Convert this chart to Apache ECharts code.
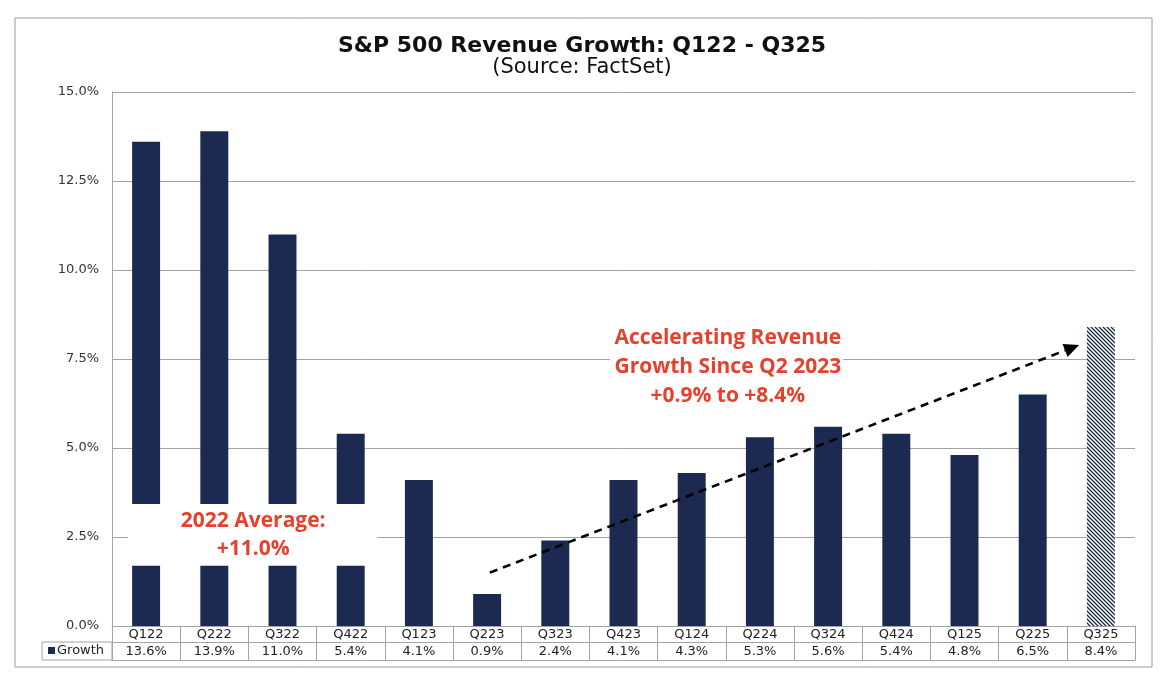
<!DOCTYPE html>
<html><head><meta charset="utf-8">
<script src="https://cdn.jsdelivr.net/npm/echarts@6/dist/echarts.min.js"></script>
<style>html,body{margin:0;padding:0;background:#fff}#c{width:1164px;height:690px}</style>
</head><body><div id="c"></div>
<script>
// ---- data ----
const categories = ['Q122','Q222','Q322','Q422','Q123','Q223','Q323','Q423','Q124','Q224','Q324','Q424','Q125','Q225','Q325'];
const growth = [13.6,13.9,11.0,5.4,4.1,0.9,2.4,4.1,4.3,5.3,5.6,5.4,4.8,6.5,8.4];
const seriesName = 'Growth';
const titleText = 'S&P 500 Revenue Growth: Q122 - Q325';
const subtitleText = '(Source: FactSet)';
const noteLeft = ['2022 Average:', '+11.0%'];
const noteRight = ['Accelerating Revenue', 'Growth Since Q2 2023', '+0.9% to +8.4%'];
const estimatedIndex = 14; // hatched bar

// ---- style ----
const NAVY = '#1c2a52';
const RED = '#e5412d';
const GRIDC = '#a3a3a3';
const G = {left:112, right:29, top:92, bottom:64};

const pc = document.createElement('canvas'); pc.width = 4; pc.height = 4;
const g2 = pc.getContext('2d');
g2.fillStyle = '#ffffff'; g2.fillRect(0,0,4,4);
g2.strokeStyle = NAVY; g2.lineWidth = 1.3;
g2.beginPath();
g2.moveTo(0,0); g2.lineTo(4,4);
g2.moveTo(-1,3); g2.lineTo(1,5);
g2.moveTo(3,-1); g2.lineTo(5,1);
g2.stroke();

const barData = growth.map((v,i) => i === estimatedIndex
  ? {value:v, itemStyle:{color:{image:pc, repeat:'repeat'}}}
  : v);

const tableFont = {fontFamily:'DejaVu Sans', fontSize:13, color:'#222'};

const chart = echarts.init(document.getElementById('c'));
const option = {
  animation:false,
  backgroundColor:'#ffffff',
  title:{
    text:titleText, subtext:subtitleText, left:'center', top:29, itemGap:-2,
    textStyle:{fontFamily:'DejaVu Sans', fontWeight:'bold', fontSize:22, color:'#111', lineHeight:24},
    subtextStyle:{fontFamily:'DejaVu Sans', fontSize:21, color:'#111', lineHeight:24}
  },
  grid:{left:G.left, right:G.right, top:G.top, bottom:G.bottom, containLabel:false},
  xAxis:[
    {type:'category', data:categories, position:'bottom',
     axisLine:{show:true, onZero:false, lineStyle:{color:GRIDC}},
     axisTick:{show:true, length:34, interval:0, lineStyle:{color:GRIDC}},
     axisLabel:Object.assign({interval:0, margin:2}, tableFont)},
    {type:'category', data:categories, position:'bottom', offset:16,
     axisLine:{show:true, onZero:false, lineStyle:{color:GRIDC}},
     axisTick:{show:false},
     axisLabel:Object.assign({interval:0, margin:3, formatter:(v,i)=>growth[i].toFixed(1)+'%'}, tableFont)},
    {type:'category', data:categories, position:'bottom', offset:34,
     axisLine:{show:true, onZero:false, lineStyle:{color:GRIDC}},
     axisTick:{show:false}, axisLabel:{show:false}}
  ],
  yAxis:{type:'value', min:0, max:15, interval:2.5,
    axisLine:{show:true, lineStyle:{color:GRIDC}},
    axisTick:{show:false},
    splitLine:{lineStyle:{color:GRIDC, width:1}},
    axisLabel:{formatter:v=>v.toFixed(1)+'%', margin:13, fontFamily:'DejaVu Sans', fontSize:13, color:'#333'}
  },
  series:[{name:seriesName, type:'bar', data:barData, barWidth:'41%', itemStyle:{color:NAVY}, z:2}]
};
chart.setOption(option);

// helpers mapping data space to pixels (fractional category index by interpolation)
const x0 = chart.convertToPixel({xAxisIndex:0}, 0);
const x1 = chart.convertToPixel({xAxisIndex:0}, 1);
const px = (ix, v) => [x0 + ix*(x1-x0), chart.convertToPixel({yAxisIndex:0}, v)];

const redFont = 'bold 21px "Open Sans"';
const graphics = [];
// outer frame
graphics.push({type:'rect', shape:{x:15, y:18, width:1137, height:649}, style:{fill:null, stroke:'#9a9a9a', lineWidth:1}, z:0, silent:true});
// legend cell of data table
const tableRowY = 690 - G.bottom + 16;
graphics.push({type:'rect', shape:{x:42, y:tableRowY, width:G.left-42, height:18}, style:{fill:null, stroke:GRIDC, lineWidth:1}, z:5});
graphics.push({type:'rect', shape:{x:48, y:tableRowY+5, width:7, height:7}, style:{fill:NAVY}, z:5});
graphics.push({type:'text', style:{text:seriesName, x:57, y:tableRowY+9, font:'13px "DejaVu Sans"', fill:'#222', align:'left', verticalAlign:'middle'}, z:5});

// left note box
const lA = px(-0.265, 3.43), lB = px(3.39, 1.69);
graphics.push({type:'rect', shape:{x:lA[0], y:lA[1], width:lB[0]-lA[0], height:lB[1]-lA[1]}, style:{fill:'#ffffff'}, z:10});
[2.95, 2.16].forEach((yy,i)=>{
  const p = px(1.57, yy);
  graphics.push({type:'text', style:{text:noteLeft[i], x:p[0], y:p[1], font:redFont, fill:RED, align:'center', verticalAlign:'middle'}, z:11});
});

// right note box
const rA = px(6.80, 8.54), rB = px(10.22, 6.07);
graphics.push({type:'rect', shape:{x:rA[0], y:rA[1], width:rB[0]-rA[0], height:rB[1]-rA[1]}, style:{fill:'#ffffff'}, z:10});
[8.09, 7.28, 6.46].forEach((yy,i)=>{
  const p = px(8.53, yy);
  graphics.push({type:'text', style:{text:noteRight[i], x:p[0], y:p[1], font:redFont, fill:RED, align:'center', verticalAlign:'middle'}, z:11});
});

// dashed arrow
const aS = px(5.04, 1.50), aE = px(13.68, 7.89);
const ang = Math.atan2(aE[1]-aS[1], aE[0]-aS[0]);
const hl = 15, hw = 7;
const base = [aE[0]-hl*Math.cos(ang), aE[1]-hl*Math.sin(ang)];
graphics.push({type:'line', shape:{x1:aS[0], y1:aS[1], x2:base[0], y2:base[1]}, style:{stroke:'#000', lineWidth:2.6, lineDash:[8,6]}, z:12});
graphics.push({type:'polygon', shape:{points:[aE,
  [base[0]-hw*Math.sin(ang), base[1]+hw*Math.cos(ang)],
  [base[0]+hw*Math.sin(ang), base[1]-hw*Math.cos(ang)]]}, style:{fill:'#000'}, z:12});

chart.setOption({graphic:{elements:graphics}});
</script>
</body></html>
